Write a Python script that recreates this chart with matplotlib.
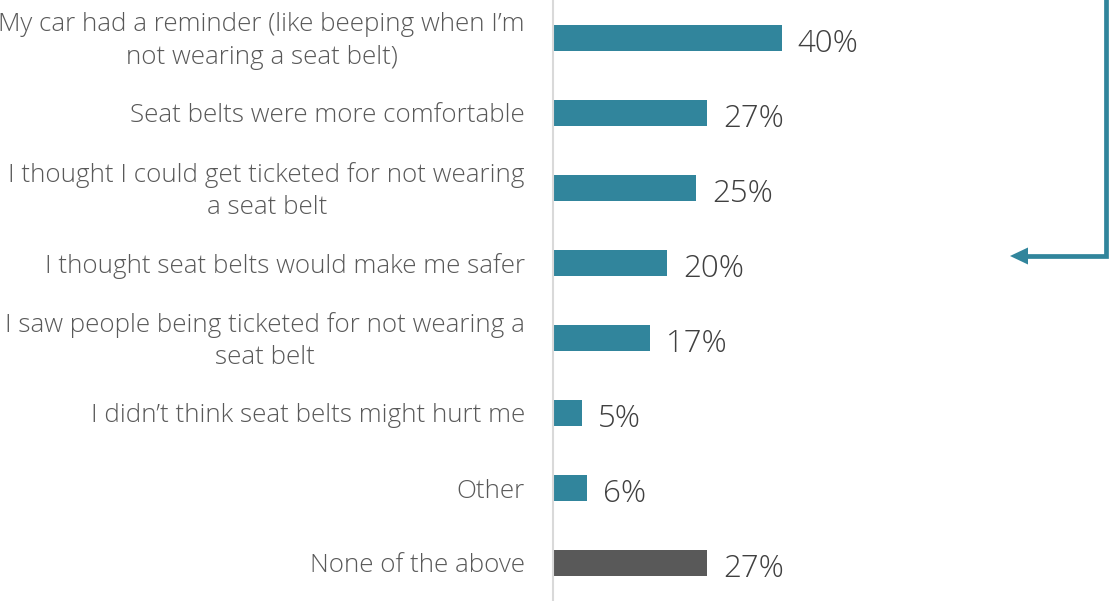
import matplotlib
matplotlib.use("Agg")
import matplotlib.pyplot as plt
from matplotlib.patches import Polygon
from matplotlib.lines import Line2D

categories = [
    "My car had a reminder (like beeping when I\u2019m\nnot wearing a seat belt)",
    "Seat belts were more comfortable",
    "I thought I could get ticketed for not wearing\na seat belt",
    "I thought seat belts would make me safer",
    "I saw people being ticketed for not wearing a\nseat belt",
    "I didn\u2019t think seat belts might hurt me",
    "Other",
    "None of the above",
]
values = [40, 27, 25, 20, 17, 5, 6, 27]
value_labels = ["40%", "27%", "25%", "20%", "17%", "5%", "6%", "27%"]

TEAL = "#31859c"
DARK = "#595959"
TEXT = "#595959"
colors = [TEAL] * 7 + [DARK]

plt.rcParams["font.family"] = ["Open Sans", "DejaVu Sans"]

W, H = 1117, 601
fig = plt.figure(figsize=(W / 100, H / 100), dpi=100)
ax = fig.add_axes([553 / W, 0, 1 - 553 / W, 1])

ypos = list(range(len(categories)))
ax.barh(ypos, values, height=0.355, color=colors)

px_per_unit = 5.72
ax.set_xlim(0, (W - 553) / px_per_unit)
ax.set_ylim((H - 38) / 75, -38 / 75)

for y, v, lab in zip(ypos, values, value_labels):
    ax.annotate(lab, (v, y), xytext=(16, -6), textcoords="offset pixels",
                ha="left", va="center", fontsize=22.5, color="#404040",
                fontweight="light")

for y, cat in zip(ypos, categories):
    ax.annotate(cat, (0, y), xytext=(-28, -3), textcoords="offset pixels",
                ha="right", va="center", multialignment="center",
                fontsize=18.75, color=TEXT, linespacing=1.4,
                fontweight="light")

ax.set_xticks([])
ax.set_yticks([])
for side in ("top", "right", "bottom"):
    ax.spines[side].set_visible(False)
ax.spines["left"].set_color("#d9d9d9")
ax.spines["left"].set_linewidth(1.5)

# bracket arrow on the right edge
fx = lambda p: p / W
fy = lambda p: 1 - p / H
fig.add_artist(Line2D([fx(1106), fx(1106), fx(1026)], [fy(-2), fy(256), fy(256)],
                      transform=fig.transFigure, color=TEAL, lw=3.4,
                      solid_capstyle="projecting", solid_joinstyle="miter"))
fig.add_artist(Polygon([(fx(1010), fy(256)), (fx(1028), fy(247.5)),
                        (fx(1028), fy(264.5))], closed=True,
                       transform=fig.transFigure, facecolor=TEAL,
                       edgecolor="none"))

fig.savefig("out.png", dpi=100)
